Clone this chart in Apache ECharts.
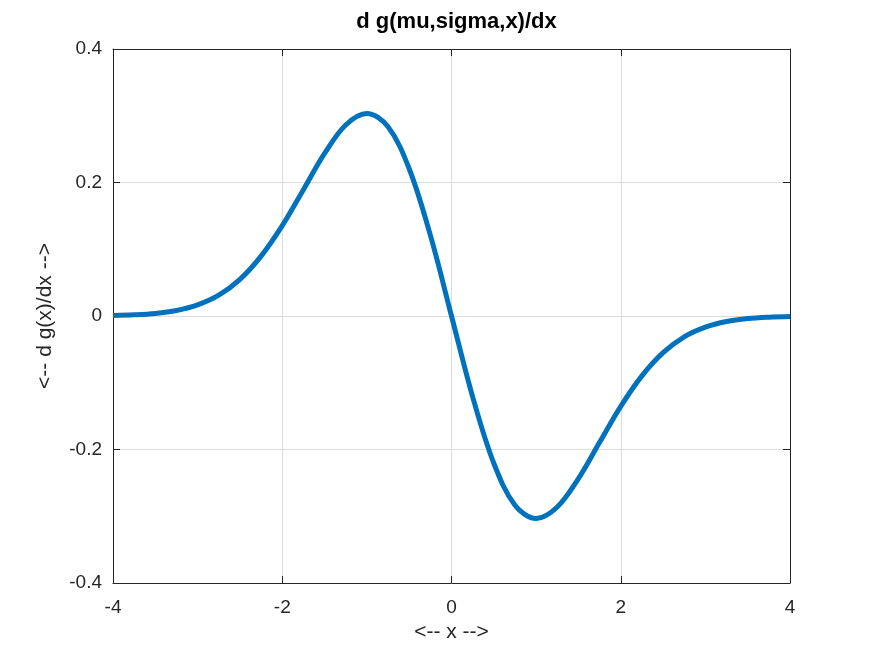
<!DOCTYPE html>
<html>
<head>
<meta charset="utf-8">
<script src="https://cdn.jsdelivr.net/npm/echarts@6/dist/echarts.min.js"></script>
<style>html,body{margin:0;padding:0;background:#fff}#c{width:873px;height:655px}</style>
</head>
<body>
<div id="c"></div>
<script>
// Values
const xValues = [-4, -3.75, -3.5, -3.25, -3, -2.75, -2.5, -2.25, -2, -1.75, -1.5, -1.25, -1, -0.75, -0.5, -0.25, 0,
                 0.25, 0.5, 0.75, 1, 1.25, 1.5, 1.75, 2, 2.25, 2.5, 2.75, 3, 3.25, 3.5, 3.75, 4];
const yValues = [0.0007, 0.0017, 0.0038, 0.0083, 0.0167, 0.0312, 0.0549, 0.0897, 0.1353, 0.1893, 0.2435, 0.2861, 0.3033, 0.2834, 0.2206, 0.1211, 0,
                 -0.1211, -0.2206, -0.2834, -0.3033, -0.2861, -0.2435, -0.1893, -0.1353, -0.0897, -0.0549, -0.0312, -0.0167, -0.0083, -0.0038, -0.0017, -0.0007];
const xTicks = [-4, -2, 0, 2, 4];
const yTicks = [-0.4, -0.2, 0, 0.2, 0.4];
const titleText = 'd g(mu,sigma,x)/dx';
const xName = '<-- x -->';
const yName = '<-- d g(x)/dx -->';

const font = '"Liberation Sans", Arial, Helvetica, sans-serif';
const chart = echarts.init(document.getElementById('c'), null, {renderer: 'canvas'});
const fmt = v => (Math.abs(v) < 1e-9 ? '0' : String(+v.toFixed(1)));
const axisCommon = {
  axisLine: {show: true, onZero: false, lineStyle: {color: '#262626', width: 1}},
  axisTick: {show: true, inside: true, length: 7, lineStyle: {color: '#262626', width: 1}},
  splitLine: {show: false}
};
chart.setOption({
  animation: false,
  backgroundColor: '#fff',
  title: {
    text: titleText, left: 451.5, top: 6, textAlign: 'center',
    textStyle: {fontFamily: font, fontSize: 22, fontWeight: 'bold', color: '#000'}
  },
  grid: {left: 113, right: 83, top: 49, bottom: 72, containLabel: false},
  xAxis: [
    Object.assign({}, axisCommon, {
      type: 'value', min: -4, max: 4, interval: 2, position: 'bottom',
      name: xName, nameLocation: 'middle', nameGap: 32,
      nameTextStyle: {fontFamily: font, fontSize: 21, color: '#262626'},
      axisLabel: {show: true, fontFamily: font, fontSize: 19, color: '#262626', margin: 15, formatter: fmt},
      splitLine: {show: true, lineStyle: {color: '#dcdcdc', width: 1}}
    }),
    Object.assign({}, axisCommon, {
      type: 'value', min: -4, max: 4, interval: 2, position: 'top',
      axisLabel: {show: false}
    })
  ],
  yAxis: [
    Object.assign({}, axisCommon, {
      type: 'value', min: -0.4, max: 0.4, interval: 0.2, position: 'left',
      name: yName, nameLocation: 'middle', nameGap: 57, nameRotate: 90,
      nameTextStyle: {fontFamily: font, fontSize: 21, color: '#262626'},
      axisLabel: {show: true, fontFamily: font, fontSize: 19, color: '#262626', margin: 11, formatter: fmt},
      splitLine: {show: true, lineStyle: {color: '#dcdcdc', width: 1}}
    }),
    Object.assign({}, axisCommon, {
      type: 'value', min: -0.4, max: 0.4, interval: 0.2, position: 'right',
      axisLabel: {show: false}
    })
  ],
  series: [{
    type: 'line',
    data: xValues.map((x, i) => [x, yValues[i]]),
    xAxisIndex: 0, yAxisIndex: 0,
    smooth: 0.35,
    showSymbol: false,
    lineStyle: {color: '#0072BD', width: 5},
    clip: true
  }]
});
</script>
</body>
</html>
